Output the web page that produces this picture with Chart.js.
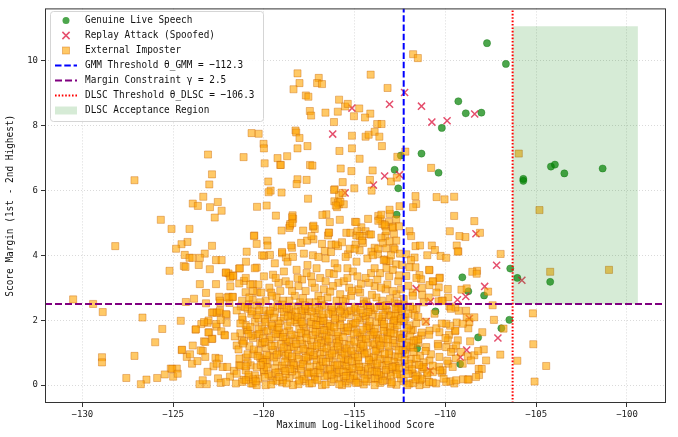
<!DOCTYPE html>
<html>
<head>
<meta charset="utf-8">
<script src="https://cdn.jsdelivr.net/npm/chart.js@4.4.1/dist/chart.umd.min.js"></script>
<style>
  html, body { margin: 0; padding: 0; background: #fff; }
  canvas { display: block; }
</style>
</head>
<body>
<canvas id="grafico" width="678" height="437"></canvas>
<script>
// limits, thresholds, ticks
const xMin = -132.06, xMax = -97.85;
const yMin = -0.55, yMax = 11.6;
const gmmThreshold = -112.3;
const dlscThreshold = -106.3;
const marginGamma = 2.5;
const regionX = [-106.3, -99.4];
const regionY = [2.5, 11.05];
const xTicks = [-130, -125, -120, -115, -110, -105, -100];
const yTicks = [0, 2, 4, 6, 8, 10];

const seriesNames = ['Genuine Live Speech', 'Replay Attack (Spoofed)', 'External Imposter'];
const lineNames = ['GMM Threshold \u03b8_GMM = \u2212112.3', 'Margin Constraint \u03b3 = 2.5', 'DLSC Threshold \u03b8_DLSC = \u2212106.3', 'DLSC Acceptance Region'];

const genuinePts = [
  [-107.71,10.53],[-106.67,9.89],[-109.29,8.74],[-108.88,8.37],[-108.02,8.39],[-110.20,7.92],[-111.32,7.13],
  [-112.46,7.07],[-112.80,6.63],[-110.38,6.54],[-112.60,6.06],[-112.69,5.25],[-105.71,6.35],[-105.71,6.29],
  [-104.19,6.73],[-103.97,6.79],[-103.45,6.52],[-101.34,6.67],[-106.43,3.59],[-106.04,3.30],[-104.23,3.18],
  [-109.07,3.32],[-108.74,2.89],[-107.87,2.76],[-110.55,2.27],[-106.48,2.01],[-106.92,1.75],[-108.20,1.47],
  [-111.56,1.13],[-109.19,0.65]
];

const replayPts = [
  [-112.25,9.01],[-113.08,8.65],[-111.32,8.59],[-110.75,8.10],[-109.91,8.14],[-108.39,8.35],[-113.35,6.44],
  [-112.53,6.48],[-115.15,8.53],[-116.21,7.73],[-113.97,6.16],[-115.53,5.92],[-108.32,4.66],[-107.18,3.69],
  [-105.79,3.23],[-107.84,3.04],[-111.61,2.97],[-108.88,2.73],[-109.34,2.63],[-110.82,2.58],[-108.68,2.05],
  [-111.06,1.96],[-107.11,1.45],[-108.83,1.08],[-109.18,0.86],[-110.84,0.44]
];

// imposters: outlying and left side points
const imposterLeft = [
  [-127.13,6.31],[-123.08,7.10],[-122.86,6.49],[-123.01,6.18],[-123.34,5.80],[-122.54,5.64],[-123.92,5.59],
  [-123.64,5.52],[-122.97,5.48],[-122.33,5.37],[-122.71,5.16],[-125.68,5.09],[-125.09,4.81],[-124.10,4.81],
  [-128.19,4.28],[-124.21,4.41],[-124.54,4.34],[-124.84,4.20],[-123.26,4.05],[-124.36,4.01],[-124.10,3.92],
  [-123.94,3.92],[-123.53,3.92],[-122.86,4.29],[-122.64,3.85],[-122.33,3.85],[-124.41,3.67],[-124.32,3.64],
  [-123.59,3.70],[-122.98,3.57],[-125.20,3.52],[-122.10,3.46],[-121.95,3.44],[-121.83,3.36],[-121.70,3.38],
  [-121.37,3.59],[-123.53,3.11],[-122.64,3.11],[-121.85,3.04],[-123.19,2.84],[-122.46,2.72],[-121.94,2.72],
  [-121.72,2.71],[-123.85,2.66],[-124.30,2.56],[-123.19,2.52],[-130.51,2.64],[-129.41,2.50],[-128.88,2.25],
  [-126.69,2.08],[-122.79,2.24],[-122.46,2.24],[-122.05,2.16],[-122.40,2.53],[-121.90,2.53],
  [-124.58,1.98],[-125.60,1.73],[-123.77,1.71],[-125.99,1.32],[-124.53,1.08],[-127.13,0.90],[-128.92,0.86],
  [-128.92,0.70],[-125.13,0.51],[-124.80,0.51],[-125.00,0.26],[-125.46,0.33],[-125.88,0.22],[-126.47,0.17],
  [-127.58,0.22],[-126.78,0.03],[-123.02,1.63],[-122.84,1.43],[-123.30,1.35],[-122.18,1.55],[-121.50,1.22],
  [-123.45,1.88],[-123.10,1.92],[-122.60,1.80],[-122.35,1.66],[-122.05,1.92],
  [-120.95,4.11],[-120.99,3.80],[-121.32,3.60],[-121.87,3.31],[-122.09,3.47],[-121.69,3.36],[-121.10,3.21],
  [-121.36,3.13],[-121.01,2.86],[-120.60,3.11],[-120.37,2.86],[-120.40,3.62],[-122.42,2.60],[-122.02,2.70],
  [-121.72,2.72],[-121.28,2.42],[-120.84,2.48],[-120.62,2.62],[-122.86,2.23],[-122.60,2.23],[-122.42,2.29],
  [-122.09,2.19],[-123.05,1.99],[-122.64,1.88],[-122.38,2.01],[-123.30,1.94],[-123.74,1.72],[-123.06,1.62],
  [-122.87,1.42],[-122.14,1.53],[-123.23,1.33],[-123.37,1.05],[-123.48,1.07],[-121.17,2.01],[-120.95,1.68],
  [-121.21,1.38],[-121.36,0.61],[-120.73,0.61],[-121.10,0.17],[-120.84,0.25],[-120.62,0.05],[-123.55,0.03],
  [-123.15,0.03],[-123.37,0.15],[-124.25,0.87],[-123.23,0.87],[-122.67,0.84],[-122.48,0.82],[-122.78,0.58],
  [-122.60,0.66],[-123.11,0.41],[-122.27,0.56],[-122.02,0.56],[-121.65,0.44],[-121.87,0.26],[-122.53,0.21],
  [-122.38,0.07],[-122.09,0.10],[-121.54,0.05],[-124.51,1.09],[-124.07,0.95],[-123.96,0.66],[-123.66,0.74],
  [-123.92,1.22],[-125.05,0.50],[-124.75,0.35]
];

// imposters: upper middle area
const imposterUpper = [
  [-118.15,9.60],[-116.98,9.46],[-118.04,9.30],[-117.07,9.30],[-116.80,9.27],[-118.37,9.11],[-117.69,8.92],
  [-117.55,8.88],[-114.12,9.56],[-113.19,9.15],[-115.86,8.79],[-115.53,8.58],[-115.38,8.66],[-114.75,8.52],
  [-117.47,8.44],[-117.40,8.30],[-116.61,8.39],[-115.93,8.42],[-115.04,8.28],[-114.14,8.36],[-114.43,8.24],
  [-116.14,8.10],[-113.76,8.04],[-113.52,8.04],[-120.68,7.76],[-120.29,7.74],[-118.26,7.84],[-118.22,7.78],
  [-120.02,7.43],[-120.00,7.29],[-118.04,7.61],[-115.15,7.68],[-114.40,7.65],[-114.23,7.71],[-113.90,7.80],
  [-113.64,7.65],[-117.60,7.36],[-118.15,7.29],[-115.84,7.21],[-115.15,7.29],[-114.73,6.97],[-113.50,7.36],
  [-112.65,7.03],[-121.12,7.02],[-119.25,6.99],[-119.10,6.78],[-118.72,7.05],[-117.46,6.78],[-117.33,6.76],
  [-115.77,6.67],[-115.18,6.59],[-114.01,6.61],[-118.15,6.34],[-118.20,6.19],[-117.65,6.32],[-119.76,6.27],
  [-119.63,5.99],[-119.74,5.94],[-119.03,5.93],[-115.66,6.25],[-116.10,6.03],[-115.86,5.85],[-115.02,6.06],
  [-114.07,5.99],[-113.00,6.27],[-120.38,5.49],[-119.85,5.53],[-119.34,5.22],[-118.42,5.23],[-118.39,5.12],
  [-118.55,4.96],[-118.60,4.84],[-117.30,4.88],[-117.20,4.81],[-116.56,5.26],[-116.78,5.24],[-116.47,4.61],
  [-116.41,4.70],[-116.12,5.66],[-115.86,5.57],[-115.60,5.57],[-115.97,5.48],[-114.98,5.03],[-114.63,4.86],
  [-114.40,4.74],[-114.18,4.64],[-114.10,4.64],[-114.26,5.12],[-113.70,5.21],[-113.59,5.11],[-113.48,4.96],
  [-113.12,5.02],[-113.06,5.27],[-112.84,4.66],[-113.31,4.59],[-120.53,4.61],[-115.46,4.69],[-115.24,4.69],
  [-114.91,4.61],[-114.58,4.59],
  [-119.96,6.83],[-119.07,6.78],[-117.57,5.74],[-116.14,6.01],[-115.66,5.92],[-115.92,5.62],[-115.79,5.65],
  [-116.04,5.53],[-114.16,6.32],[-113.08,5.40],[-113.70,5.06],[-113.31,4.89],[-112.71,5.10],[-118.45,5.17],
  [-119.03,4.76],[-119.82,4.45],[-120.55,4.59],[-118.57,4.91],[-118.43,4.99],[-117.27,4.91],[-116.37,5.02],
  [-115.82,5.09],[-117.84,4.76],[-117.27,4.49],[-116.43,4.69],[-114.91,5.02],[-114.85,4.74],[-114.73,4.59],
  [-114.54,4.38],[-114.95,4.33],[-113.53,4.54],[-113.26,4.74],[-112.90,4.88],[-113.45,4.37],[-113.90,4.23],
  [-113.26,4.21],[-112.86,4.23],[-112.71,4.45],[-118.45,4.23],[-117.95,4.38],[-117.62,4.45],[-117.38,4.59],
  [-116.28,4.33],[-115.92,4.28],[-115.37,4.03],[-115.27,4.20],[-114.73,4.15],[-114.08,4.11],[-113.72,4.03],
  [-113.35,3.87],[-113.08,3.82],[-116.65,4.13],[-116.04,4.33],[-119.00,4.06],[-118.79,3.93],[-119.67,4.01],
  [-120.00,3.98]
];

// imposters: right of the GMM threshold
const imposterRight = [
  [-111.78,10.19],[-111.52,10.07],[-112.21,7.19],[-110.79,6.69],[-112.68,6.39],[-111.65,5.82],[-111.61,5.58],
  [-111.78,5.48],[-110.49,5.79],[-110.05,5.72],[-109.52,5.80],[-112.53,5.51],[-113.53,5.25],[-109.52,5.21],
  [-108.41,5.05],[-105.96,7.13],[-104.82,5.39],[-104.23,3.49],[-100.99,3.55],[-105.18,2.21],[-105.16,1.26],
  [-104.45,0.59],[-105.09,0.11],[-106.04,0.75],[-106.98,0.94],[-107.76,0.76],[-107.89,1.10],[-108.17,0.50],
  [-108.00,0.50],[-107.33,2.01],[-107.97,1.63],[-106.80,1.74],[-106.96,4.04],[-108.26,3.52],[-108.52,3.49],
  [-107.65,2.88],[-107.40,2.46],[-108.10,4.69],[-108.90,4.56],[-109.76,4.74],[-109.38,4.30],[-109.29,4.12],
  [-110.75,4.30],[-110.58,4.16],[-110.27,3.98],[-109.96,3.92],[-110.88,3.54],[-110.31,3.31],[-110.68,3.19],
  [-109.12,2.94],[-109.85,2.70],[-108.83,2.98],[-108.28,3.43],[-108.86,2.29],[-109.38,1.93],[-109.47,1.66],
  [-109.32,1.38],[-109.58,1.12],[-109.96,1.17],[-109.43,0.82],[-108.77,0.89],[-108.41,0.92],[-108.20,1.05],
  [-108.64,1.35],[-108.74,1.75],[-109.03,0.18],[-108.72,0.18],[-109.51,0.05],[-108.15,0.31],[-110.20,0.38],
  [-109.73,0.12],[-109.84,0.66],[-110.35,0.56],[-109.80,1.55],[-109.45,1.68],[-109.74,1.83],
  [-109.32,4.11],[-109.23,4.59],[-110.33,3.29],[-109.87,2.96],[-110.37,3.01],[-110.88,3.08],[-111.43,3.39],
  [-111.34,3.26],[-111.65,3.63],[-111.98,3.63],[-112.16,3.36],[-112.05,3.06],[-111.80,2.85],[-111.28,2.78],
  [-110.92,2.70],[-110.38,2.58],[-110.15,2.60],[-109.78,2.42],[-109.27,2.29],[-108.83,2.09],[-108.68,1.94],
  [-108.41,2.09],[-109.05,1.89],[-109.45,2.39],[-109.96,1.89],[-110.33,1.63],[-110.88,1.68],[-111.34,1.53],
  [-111.61,1.38],[-111.06,1.17],[-110.42,1.27],[-109.87,1.38],[-109.41,1.22],[-109.14,1.02],[-109.69,1.02],
  [-110.33,0.87],[-110.88,0.76],[-111.25,0.56],[-110.70,0.40],[-110.15,0.46],[-109.60,0.56],[-109.05,0.66],
  [-108.59,0.76],[-108.32,0.25],[-108.77,0.17],[-109.41,0.15],[-109.96,0.10],[-110.51,0.05],[-111.06,0.03],
  [-111.52,0.25],[-111.80,0.36],[-111.98,0.05],[-111.43,0.00],
  [-113.35,4.94],[-112.89,4.85],[-112.56,4.89],[-111.98,4.74],[-111.89,4.59],[-111.65,4.28],[-111.70,3.93],
  [-112.16,4.03],[-112.80,4.18],[-113.08,4.43],[-113.26,3.82],[-112.71,3.72],
  [-111.4,0.15],[-111.0,0.3],[-110.7,0.08],[-110.3,0.45],[-111.2,0.7],[-110.8,0.95],[-110.4,1.2],[-111.5,1.3],
  [-110.9,1.55],[-110.5,1.75],[-111.1,1.95],[-110.6,2.2],[-111.6,2.35],[-110.1,0.2],[-109.9,0.75],[-110.0,1.45],
  [-110.2,1.9],[-109.7,2.35],[-111.3,0.5],[-111.8,1.7],[-110.7,0.6],
  [-111.8,2.75],[-111.3,3.0],[-110.9,3.55],[-111.6,3.3],[-111.0,4.0],[-110.5,2.85],[-111.9,3.85],[-111.4,4.3],
  [-110.7,3.2],[-110.2,2.6],[-111.2,2.55]
];

// imposters: band above the margin line, x -121..-112
const imposterMid = [
  [-120.8,2.7],[-120.3,3.1],[-119.9,2.6],[-119.5,3.4],[-119.1,2.9],[-118.7,3.8],[-118.3,2.75],[-117.9,3.25],
  [-117.5,2.55],[-117.1,3.6],[-116.7,2.95],[-116.3,4.1],[-115.9,3.15],[-115.5,2.65],[-115.1,3.5],[-114.7,2.85],
  [-114.3,3.9],[-113.9,3.05],[-113.5,2.6],[-113.1,3.35],[-112.7,2.8],[-112.4,3.7],[-120.5,3.6],[-120.1,4.0],
  [-119.7,3.0],[-119.3,2.7],[-118.9,3.5],[-118.5,4.3],[-118.1,3.05],[-117.7,2.9],[-117.3,4.0],[-116.9,3.3],
  [-116.5,2.7],[-116.1,3.75],[-115.7,4.4],[-115.3,3.0],[-114.9,3.8],[-114.5,2.6],[-114.1,3.45],[-113.7,4.2],
  [-113.3,2.95],[-112.9,3.55],[-112.5,4.05],[-121.0,3.3],[-120.6,2.9],[-119.8,4.3],[-119.0,4.1],[-118.2,3.55],
  [-117.4,3.35],[-116.6,3.9],[-115.8,2.8],[-115.0,4.2],[-114.2,3.15],[-113.4,3.85],[-112.6,3.2],[-120.2,2.55],
  [-119.4,3.75],[-118.6,2.6],[-117.8,4.05],[-117.0,2.75],[-116.2,3.05],[-115.4,3.6],[-114.6,4.45],[-113.8,2.7],
  [-113.0,4.0],[-112.3,2.65],[-121.2,2.6],[-120.4,4.35],[-119.6,2.85],[-118.8,3.2],[-118.0,2.55],[-117.2,3.0],
  [-116.4,3.45],[-115.6,3.2],[-114.8,2.95],[-114.0,4.0],[-113.2,3.1],[-112.8,2.55],
  [-119.2,3.15],[-117.6,3.7],[-116.0,2.6],[-114.4,3.3],[-112.9,2.9],[-118.4,3.95],[-116.8,4.35],[-115.2,2.75],
  [-113.6,3.45],[-120.0,3.35],[-117.0,3.95],[-115.5,3.95],[-113.9,3.6],[-112.6,2.5],
  [-118.95,2.6],[-118.45,2.9],[-117.85,2.68],[-117.35,3.15],[-116.85,2.62],[-116.35,2.88],[-115.65,2.58],
  [-115.15,2.9],[-114.65,3.12],[-114.05,2.78],[-113.55,3.0],[-113.05,2.66],[-112.55,3.38],[-119.55,2.75],
  [-120.15,2.85],[-118.15,3.3],[-116.15,3.42],[-114.35,2.55],[-113.25,3.6],[-117.65,3.45],[-115.95,3.6],
  [-119.35,3.3],[-120.75,3.1],[-112.45,2.95],[-114.85,3.35],[-116.6,3.2],[-118.6,3.1],[-117.15,2.55],
  [-115.4,3.3],[-113.75,3.25]
];

// imposters: dense cluster below the margin line
const imposterCore = [
  [-121.2,0.1],[-120.7,0.05],[-120.3,0.2],[-119.9,0.0],[-119.5,0.15],[-119.0,0.08],[-118.6,0.22],[-118.1,0.03],
  [-117.7,0.12],[-117.2,0.18],[-116.8,0.0],[-116.3,0.1],[-115.9,0.21],[-115.4,0.05],[-115.0,0.14],[-114.5,0.02],
  [-114.1,0.19],[-113.6,0.07],[-113.2,0.16],[-112.7,0.01],[-112.3,0.12],[-111.8,0.06],[-111.3,0.2],[-110.9,0.1],
  [-121.5,0.35],[-121.0,0.45],[-120.5,0.3],[-120.0,0.42],[-119.6,0.28],[-119.2,0.4],[-118.8,0.33],[-118.3,0.48],
  [-117.9,0.27],[-117.4,0.38],[-117.0,0.46],[-116.5,0.3],[-116.1,0.41],[-115.6,0.26],[-115.2,0.37],[-114.8,0.47],
  [-114.3,0.32],[-113.9,0.44],[-113.4,0.29],[-113.0,0.4],[-112.5,0.35],[-112.0,0.45],[-111.6,0.3],[-111.0,0.38],
  [-121.3,0.6],[-120.9,0.7],[-120.4,0.55],[-119.8,0.65],[-119.3,0.72],[-118.9,0.52],[-118.5,0.68],[-118.0,0.58],
  [-117.6,0.74],[-117.1,0.62],[-116.7,0.53],[-116.2,0.7],[-115.7,0.6],[-115.3,0.5],[-114.9,0.66],[-114.4,0.57],
  [-114.0,0.73],[-113.5,0.61],[-113.1,0.52],[-112.6,0.69],[-112.2,0.58],[-111.7,0.64],[-111.2,0.55],
  [-121.0,0.85],[-120.6,0.95],[-120.1,0.8],[-119.7,0.9],[-119.2,0.98],[-118.7,0.82],[-118.2,0.93],[-117.8,0.78],
  [-117.3,0.88],[-116.9,0.97],[-116.4,0.84],[-116.0,0.92],[-115.5,0.79],[-115.1,0.9],[-114.6,0.99],[-114.2,0.83],
  [-113.7,0.94],[-113.3,0.8],[-112.8,0.89],[-112.4,0.96],[-111.9,0.81],[-111.4,0.91],
  [-121.4,1.1],[-120.8,1.2],[-120.3,1.05],[-119.9,1.15],[-119.4,1.22],[-119.0,1.03],[-118.5,1.18],[-118.1,1.08],
  [-117.6,1.24],[-117.2,1.12],[-116.7,1.02],[-116.3,1.2],[-115.8,1.1],[-115.4,1.01],[-114.9,1.17],[-114.5,1.07],
  [-114.0,1.23],[-113.6,1.13],[-113.1,1.04],[-112.7,1.19],[-112.2,1.09],[-111.8,1.15],[-111.1,1.05],
  [-121.1,1.35],[-120.6,1.45],[-120.2,1.3],[-119.7,1.4],[-119.2,1.48],[-118.8,1.33],[-118.3,1.43],[-117.9,1.28],
  [-117.4,1.38],[-117.0,1.47],[-116.5,1.34],[-116.0,1.42],[-115.6,1.27],[-115.2,1.4],[-114.7,1.49],[-114.3,1.31],
  [-113.8,1.44],[-113.4,1.3],[-112.9,1.39],[-112.5,1.46],[-112.0,1.32],[-111.5,1.41],
  [-121.3,1.6],[-120.9,1.7],[-120.4,1.55],[-120.0,1.65],[-119.5,1.73],[-119.1,1.58],[-118.6,1.68],[-118.2,1.53],
  [-117.7,1.63],[-117.3,1.72],[-116.8,1.57],[-116.4,1.67],[-115.9,1.52],[-115.5,1.66],[-115.0,1.74],[-114.6,1.56],
  [-114.1,1.69],[-113.7,1.54],[-113.2,1.64],[-112.8,1.71],[-112.3,1.59],[-111.9,1.68],[-111.3,1.62],
  [-121.0,1.85],[-120.5,1.95],[-120.1,1.8],[-119.6,1.9],[-119.1,1.98],[-118.7,1.83],[-118.2,1.93],[-117.8,1.78],
  [-117.4,1.88],[-116.9,1.97],[-116.5,1.82],[-116.1,1.92],[-115.6,1.77],[-115.2,1.9],[-114.7,1.99],[-114.3,1.81],
  [-113.8,1.94],[-113.4,1.79],[-112.9,1.89],[-112.5,1.96],[-112.0,1.84],[-111.6,1.91],
  [-121.2,2.1],[-120.7,2.2],[-120.3,2.05],[-119.8,2.15],[-119.4,2.23],[-118.9,2.08],[-118.5,2.18],[-118.0,2.03],
  [-117.6,2.13],[-117.1,2.22],[-116.7,2.07],[-116.2,2.17],[-115.8,2.02],[-115.3,2.16],[-114.9,2.24],[-114.4,2.06],
  [-114.0,2.19],[-113.5,2.04],[-113.1,2.14],[-112.6,2.21],[-112.2,2.09],[-111.7,2.16],
  [-120.9,2.35],[-120.4,2.45],[-120.0,2.3],[-119.5,2.4],[-119.0,2.48],[-118.6,2.33],[-118.1,2.43],[-117.7,2.28],
  [-117.2,2.38],[-116.8,2.47],[-116.3,2.32],[-115.9,2.42],[-115.4,2.27],[-115.0,2.41],[-114.5,2.49],[-114.1,2.31],
  [-113.6,2.44],[-113.2,2.29],[-112.7,2.39],[-112.3,2.46],[-111.8,2.34],
  [-120.6,0.18],[-119.4,0.52],[-118.2,0.31],[-117.1,0.77],[-116.0,0.36],[-114.9,0.21],[-113.8,0.55],[-112.6,0.86],
  [-120.1,1.29],[-118.9,1.62],[-117.7,1.05],[-116.6,1.38],[-115.4,1.66],[-114.3,1.0],[-113.2,1.53],[-112.1,1.75],
  [-119.7,2.2],[-118.5,2.42],[-117.4,1.95],[-116.2,2.26],[-115.1,1.87],[-113.9,2.37],[-112.8,2.02],[-121.0,0.58],
  [-119.9,0.77],[-118.7,1.1],[-117.6,0.41],[-116.4,0.92],[-115.3,1.24],[-114.1,0.66],[-113.0,0.28],[-111.9,1.18],
  [-120.3,1.72],[-119.2,1.9],[-118.0,1.38],[-116.9,1.71],[-115.7,2.1],[-114.6,1.41],[-113.5,1.96],[-112.4,2.28],
  [-121.5,2.3],[-120.7,1.52],[-119.5,1.08],[-118.4,0.68],[-117.2,0.25],[-116.1,0.6],[-115.0,0.94],[-113.9,1.28],
  [-112.7,0.47],[-111.6,0.82],[-120.0,0.47],[-118.8,0.9],[-117.7,1.58],[-116.5,1.9],[-115.4,0.43],[-114.2,1.82],
  [-113.1,0.95],[-119.0,2.35],[-117.9,2.18],[-116.8,1.17],[-115.6,0.71],[-114.5,0.35],[-113.4,1.68],[-112.2,0.95],
  [-120.9,0.95],[-119.6,1.47],[-118.3,2.0],[-117.0,1.38],[-115.8,1.85],[-114.7,1.13],[-113.6,0.8],[-112.5,1.55],
  [-119.3,0.13],[-118.1,0.82],[-116.9,0.58],[-115.7,1.02],[-114.4,2.13],[-113.3,2.32],[-112.0,0.66],[-120.4,2.16],
  [-117.5,2.4],[-116.3,1.63],[-114.0,1.56],[-112.9,1.3],[-118.6,1.34],[-115.2,2.3],[-113.7,0.18],[-116.7,2.44],
  [-119.0,0.6],[-117.8,0.19],[-114.8,0.74],[-112.3,1.98],[-121.3,1.9],[-120.2,0.85],[-118.9,2.25],[-116.0,1.3],
  [-114.3,2.45],[-113.0,2.15],[-111.5,2.1],[-119.8,1.68],[-117.3,1.54],[-115.5,0.12],[-113.8,1.1],[-112.6,2.43],
  [-118.4,0.0],[-117.5,0.05],[-116.6,0.02],[-115.7,0.0],[-114.8,0.08],[-113.9,0.0],[-113.0,0.04],[-112.1,0.0],
  [-119.6,0.02],[-120.4,0.0]
];

// imposters: extra fill for the densest part of the cluster
const imposterDense = [
  [-120.45,0.12],[-119.75,0.33],[-118.95,0.15],[-118.35,0.61],[-117.55,0.36],[-116.85,0.81],[-116.15,0.18],
  [-115.45,0.59],[-114.65,0.44],[-113.95,0.87],[-113.25,0.62],[-112.45,0.21],[-111.85,0.49],
  [-121.15,1.28],[-120.25,1.57],[-119.55,1.83],[-118.75,1.41],[-118.05,1.72],[-117.35,1.19],[-116.55,1.53],
  [-115.85,1.35],[-115.05,1.58],[-114.35,1.77],[-113.65,1.37],[-112.85,1.58],[-112.15,1.22],
  [-120.65,2.27],[-119.95,2.04],[-119.25,2.46],[-118.45,2.14],[-117.75,2.35],[-117.05,2.01],[-116.25,2.39],
  [-115.55,2.2],[-114.85,2.06],[-114.15,2.41],[-113.45,2.17],[-112.75,2.33],[-112.05,2.2],
  [-120.85,0.32],[-120.05,0.71],[-119.35,0.38],[-118.65,0.97],[-117.95,0.51],[-117.25,0.93],[-116.45,0.46],
  [-115.75,0.83],[-115.05,0.29],[-114.25,0.51],[-113.55,0.38],[-112.85,0.72],[-112.05,0.34],
  [-121.35,0.82],[-120.55,1.1],[-119.85,0.93],[-119.05,1.26],[-118.35,1.18],[-117.55,0.91],[-116.85,1.29],
  [-116.15,1.07],[-115.35,0.78],[-114.65,1.27],[-113.85,1.05],[-113.15,1.21],[-112.35,1.09],
  [-120.75,1.79],[-120.05,1.44],[-119.25,1.7],[-118.55,1.95],[-117.85,1.88],[-117.15,1.64],[-116.35,1.81],
  [-115.65,1.48],[-114.95,1.92],[-114.15,1.53],[-113.45,1.43],[-112.65,1.84],[-111.95,1.5],
  [-121.05,2.4],[-120.25,2.3],[-119.45,2.08],[-118.75,2.38],[-117.95,2.29],[-117.25,2.1],[-116.45,2.2],
  [-115.75,2.33],[-114.95,2.36],[-114.25,2.25],[-113.45,2.43],[-112.75,2.13],[-111.95,2.42],
  [-119.15,0.25],[-118.45,0.42],[-117.35,0.06],[-116.65,0.27],[-115.85,0.47],[-115.15,0.73],[-114.35,0.11],
  [-113.65,0.31],[-112.95,0.09],[-112.25,0.77],[-111.65,0.18],
  [-119.85,0.55],[-118.85,0.72],[-117.85,0.65],[-116.75,0.72],[-115.95,0.63],[-114.75,0.56],[-113.75,0.67],
  [-112.75,0.59],[-111.75,1.02],
  [-120.35,0.9],[-119.45,0.85],[-118.45,0.88],[-117.45,1.02],[-116.55,1.13],[-115.55,0.97],[-114.45,0.95],
  [-113.35,0.97],[-112.45,1.3],
  [-120.85,1.58],[-119.95,1.33],[-118.95,1.48],[-117.95,1.61],[-116.95,1.85],[-115.95,1.63],[-114.85,1.62],
  [-113.85,1.74],[-112.85,1.98],[-111.75,1.37],
  [-119.65,2.29],[-118.25,2.26],[-116.95,2.3],[-115.65,2.42],[-114.55,2.22],[-113.25,2.46],[-112.45,2.05],
  [-117.05,0.15],[-115.25,0.2],[-113.45,0.13],[-118.75,0.05],[-116.35,0.5],[-114.05,0.42],[-112.55,0.52],
  [-111.45,0.62],[-117.65,1.46],[-116.25,0.97],[-114.55,1.71],[-113.05,1.79],[-115.45,1.13],[-118.15,2.1],
  [-119.35,1.58],[-116.75,1.98],[-114.45,0.2],[-113.15,0.75],[-115.85,0.03],[-117.25,0.4],[-118.55,0.5],
  [-119.95,0.25],[-121.0,0.15],[-121.6,1.5],
  [-118.82,0.44],[-117.48,0.57],[-116.28,0.33],[-115.12,0.52],[-113.88,0.22],[-112.68,0.33],[-119.58,1.21],
  [-118.22,1.27],[-117.08,1.22],[-115.92,1.19],[-114.82,0.86],[-113.58,1.22],[-112.38,1.44],[-119.18,1.77],
  [-117.92,1.95],[-116.68,1.69],[-115.38,1.78],[-114.18,1.96],[-113.02,1.61],[-118.68,2.12],[-117.38,2.27],
  [-116.08,2.05],[-114.68,2.31],[-113.68,2.11],[-112.42,2.36],[-118.05,0.14],[-116.92,0.38],[-115.62,0.41],
  [-114.22,0.77],[-113.28,0.46],[-117.82,1.12],[-116.42,1.43],[-115.18,1.06],[-113.92,1.63],[-112.58,1.07],
  [-119.28,0.94],[-117.12,1.85],[-115.82,2.27],[-114.52,1.22],[-113.38,1.88],[-116.58,0.72],[-118.48,1.56],
  [-120.18,0.62],[-119.92,1.94],[-117.68,0.85],[-115.02,1.34],[-113.78,0.41],[-112.92,0.56],[-116.12,1.78],
  [-114.92,0.07],[-117.72,2.45],[-118.92,1.16],[-115.48,0.28],[-113.18,1.41],[-116.78,2.18],[-114.38,1.43]
];

const imposterPts = imposterLeft.concat(imposterUpper, imposterRight, imposterMid, imposterCore, imposterDense);

function toXY(pts) {
    return pts.map(p => ({ x: p[0], y: p[1] }));
}

function fmtMinus(v) {
    return (v < 0 ? '\u2212' : '') + Math.abs(v);
}

const monoFont = "'DejaVu Sans Mono', 'Liberation Mono', monospace";

const extras = {
    id: 'extras',
    afterDatasetDraw(chart, args) {
        // acceptance region sits over the scatter, under the threshold lines
        if (args.index !== 2) return;
        const ctx = chart.ctx;
        const sx = chart.scales.x, sy = chart.scales.y;
        const l = sx.getPixelForValue(regionX[0]), r = sx.getPixelForValue(regionX[1]);
        const t = sy.getPixelForValue(regionY[1]), b = sy.getPixelForValue(regionY[0]);
        ctx.save();
        ctx.fillStyle = 'rgba(0,128,0,0.16)';
        ctx.fillRect(l, t, r - l, b - t);
        ctx.restore();
    },
    afterDraw(chart) {
        const ctx = chart.ctx;
        const a = chart.chartArea;
        ctx.save();

        // frame
        ctx.strokeStyle = '#333';
        ctx.lineWidth = 1;
        ctx.strokeRect(a.left + 0.5, a.top + 0.5, a.right - a.left - 1, a.bottom - a.top - 1);

        // axis titles
        ctx.fillStyle = '#111';
        ctx.font = "11px " + monoFont;
        ctx.textAlign = 'center';
        ctx.textBaseline = 'middle';
        ctx.fillText('Maximum Log-Likelihood Score', (a.left + a.right) / 2, 425, 158);
        ctx.save();
        ctx.translate(10, (a.top + a.bottom) / 2);
        ctx.rotate(-Math.PI / 2);
        ctx.fillText('Score Margin (1st - 2nd Highest)', 0, 0, 182);
        ctx.restore();

        // legend
        const bx = 50, by = 11, bw = 213, bh = 110;
        ctx.beginPath();
        ctx.roundRect(bx + 0.5, by + 0.5, bw, bh, 3);
        ctx.fillStyle = 'rgba(255,255,255,0.85)';
        ctx.fill();
        ctx.strokeStyle = '#d5d5d5';
        ctx.lineWidth = 1;
        ctx.stroke();

        const rowY = i => 20.5 + i * 15;
        const mx = 66, hx0 = 55, hx1 = 77;

        ctx.beginPath();
        ctx.arc(mx, rowY(0), 3.5, 0, Math.PI * 2);
        ctx.fillStyle = 'rgba(0,128,0,0.7)';
        ctx.fill();

        ctx.beginPath();
        ctx.moveTo(mx - 3.6, rowY(1) - 3.6); ctx.lineTo(mx + 3.6, rowY(1) + 3.6);
        ctx.moveTo(mx - 3.6, rowY(1) + 3.6); ctx.lineTo(mx + 3.6, rowY(1) - 3.6);
        ctx.strokeStyle = 'rgba(220,20,60,0.75)';
        ctx.lineWidth = 1.5;
        ctx.stroke();

        ctx.fillStyle = 'rgba(255,165,0,0.6)';
        ctx.fillRect(mx - 3.5, rowY(2) - 3.5, 7, 7);
        ctx.strokeStyle = 'rgba(210,105,0,0.5)';
        ctx.lineWidth = 0.8;
        ctx.strokeRect(mx - 3.5, rowY(2) - 3.5, 7, 7);

        const lineStyles = [['#0000ff', [6.5, 2.8]], ['#800080', [7, 3]], ['#ff0000', [1.6, 1.8]]];
        lineStyles.forEach((s, i) => {
            ctx.beginPath();
            ctx.setLineDash(s[1]);
            ctx.strokeStyle = s[0];
            ctx.lineWidth = 2;
            ctx.moveTo(hx0, rowY(3 + i));
            ctx.lineTo(hx1, rowY(3 + i));
            ctx.stroke();
        });
        ctx.setLineDash([]);
        ctx.fillStyle = 'rgba(0,128,0,0.16)';
        ctx.fillRect(hx0, rowY(6) - 4, hx1 - hx0, 8);

        ctx.fillStyle = '#111';
        ctx.textAlign = 'left';
        const labels = seriesNames.concat(lineNames);
        labels.forEach((t, i) => {
            ctx.fillText(t, 85, rowY(i), t.length * 5.65);
        });

        ctx.restore();
    }
};

document.addEventListener("DOMContentLoaded", function () {

    const ctx = document.getElementById('grafico').getContext('2d');

    new Chart(ctx, {
        type: 'scatter',
        data: {
            datasets: [
                {
                    label: seriesNames[0],
                    data: toXY(genuinePts),
                    pointStyle: 'circle',
                    pointRadius: 3.6,
                    backgroundColor: 'rgba(0,128,0,0.7)',
                    borderColor: 'rgba(0,110,0,0.7)',
                    borderWidth: 0.5,
                    order: 3
                },
                {
                    label: seriesNames[1],
                    data: toXY(replayPts),
                    pointStyle: 'crossRot',
                    pointRadius: 5,
                    borderColor: 'rgba(220,20,60,0.75)',
                    borderWidth: 1.5,
                    order: 2
                },
                {
                    label: seriesNames[2],
                    data: toXY(imposterPts),
                    pointStyle: 'rect',
                    pointRadius: 5,
                    backgroundColor: 'rgba(255,165,0,0.6)',
                    borderColor: 'rgba(200,100,0,0.5)',
                    borderWidth: 0.8,
                    order: 1
                },
                {
                    type: 'line',
                    label: lineNames[0],
                    data: [{ x: gmmThreshold, y: yMin }, { x: gmmThreshold, y: yMax }],
                    showLine: true,
                    borderColor: '#0000ff',
                    borderWidth: 2,
                    borderDash: [6.5, 2.8],
                    pointRadius: 0,
                    fill: false,
                    order: 0
                },
                {
                    type: 'line',
                    label: lineNames[1],
                    data: [{ x: xMin, y: marginGamma }, { x: xMax, y: marginGamma }],
                    showLine: true,
                    borderColor: '#800080',
                    borderWidth: 2,
                    borderDash: [7, 3],
                    pointRadius: 0,
                    fill: false,
                    order: 0
                },
                {
                    type: 'line',
                    label: lineNames[2],
                    data: [{ x: dlscThreshold, y: yMin }, { x: dlscThreshold, y: yMax }],
                    showLine: true,
                    borderColor: '#ff0000',
                    borderWidth: 2,
                    borderDash: [1.6, 1.8],
                    pointRadius: 0,
                    fill: false,
                    order: 0
                }
            ]
        },
        options: {
            responsive: false,
            devicePixelRatio: 1,
            animation: false,
            layout: { padding: { top: 5, right: 12, left: 0, bottom: 0 } },
            plugins: {
                legend: { display: false },
                tooltip: { enabled: false }
            },
            scales: {
                x: {
                    type: 'linear',
                    min: xMin,
                    max: xMax,
                    afterFit: s => { s.height = 34; },
                    afterBuildTicks: s => { s.ticks = xTicks.map(v => ({ value: v })); },
                    grid: {
                        color: 'rgba(150,150,150,0.45)',
                        lineWidth: 0.8,
                        tickLength: 4,
                        tickColor: '#333',
                        tickWidth: 1,
                        tickBorderDash: []
                    },
                    border: { display: false, dash: [1, 2] },
                    ticks: {
                        padding: 2,
                        color: '#222',
                        font: { family: monoFont, size: 9 },
                        maxRotation: 0,
                        callback: v => fmtMinus(v)
                    }
                },
                y: {
                    type: 'linear',
                    min: yMin,
                    max: yMax,
                    afterFit: s => { s.width = 45; },
                    afterBuildTicks: s => { s.ticks = yTicks.map(v => ({ value: v })); },
                    grid: {
                        color: 'rgba(150,150,150,0.45)',
                        lineWidth: 0.8,
                        tickLength: 4,
                        tickColor: '#333',
                        tickWidth: 1,
                        tickBorderDash: []
                    },
                    border: { display: false, dash: [1, 2] },
                    ticks: {
                        padding: 3,
                        color: '#222',
                        font: { family: monoFont, size: 9 },
                        callback: v => fmtMinus(v)
                    }
                }
            }
        },
        plugins: [extras]
    });
});
</script>
</body>
</html>
